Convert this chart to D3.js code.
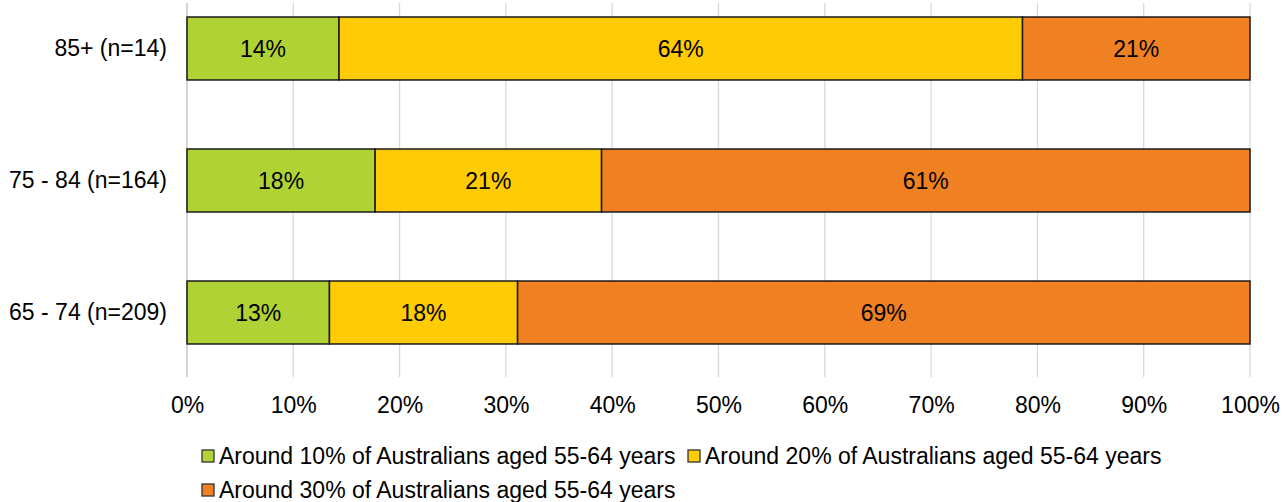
<!DOCTYPE html>
<html>
<head>
<meta charset="utf-8">
<script src="https://cdn.jsdelivr.net/npm/d3@7"></script>
<style>
  html, body { margin: 0; padding: 0; background: #ffffff; }
  svg { display: block; font-family: Arial, "Liberation Sans", sans-serif; }
</style>
</head>
<body>
<svg id="chart" width="1286" height="502"></svg>
<script>
// Age groups, top to bottom
const categories = ["85+ (n=14)", "75 - 84 (n=164)", "65 - 74 (n=209)"];

// Share of respondents (%) per answer, in the same order as categories
const seriesNames = [
  "Around 10% of Australians aged 55-64 years",
  "Around 20% of Australians aged 55-64 years",
  "Around 30% of Australians aged 55-64 years"
];
const around10 = [14.3, 17.7, 13.4];
const around20 = [64.3, 21.3, 17.7];
const around30 = [21.4, 61.0, 68.9];

const tickValues = [0, 10, 20, 30, 40, 50, 60, 70, 80, 90, 100];
const colors = ["#b1d235", "#ffcb05", "#f08122"];

const svg = d3.select("#chart");
const left = 187, right = 1250;
const gridTop = 3, gridBottom = 377;

const x = d3.scaleLinear().domain([0, 100]).range([left, right]);
const y = d3.scaleBand().domain(categories).range([-17.5, 378.5]).paddingInner(0.523).paddingOuter(0.2615);

// Vertical gridlines
svg.append("g")
  .selectAll("line")
  .data(tickValues.slice(1))
  .join("line")
  .attr("x1", d => x(d)).attr("x2", d => x(d))
  .attr("y1", gridTop).attr("y2", gridBottom)
  .attr("stroke", "#d9d9d9").attr("stroke-width", 1.3);

// Category axis line
svg.append("line")
  .attr("x1", x(0)).attr("x2", x(0))
  .attr("y1", gridTop).attr("y2", gridBottom)
  .attr("stroke", "#bfbfbf").attr("stroke-width", 1.3);

// Bottom axis labels
const xAxis = d3.axisBottom(x).tickValues(tickValues).tickFormat(d => d + "%").tickSize(0).tickPadding(0);
const gx = svg.append("g").attr("transform", `translate(0,${gridBottom + 20})`).call(xAxis);
gx.select(".domain").remove();
gx.selectAll("text")
  .attr("font-size", 23).attr("fill", "#000").attr("font-family", "Arial, 'Liberation Sans', sans-serif")
  .attr("dy", "0.71em");

// Category labels
const yAxis = d3.axisLeft(y).tickSize(0).tickPadding(0);
const gy = svg.append("g").attr("transform", `translate(${left - 20},0)`).call(yAxis);
gy.select(".domain").remove();
gy.selectAll("text")
  .attr("font-size", 23).attr("fill", "#000").attr("font-family", "Arial, 'Liberation Sans', sans-serif");

// Stack the series
const rows = categories.map((c, i) => ({ cat: c, s0: around10[i], s1: around20[i], s2: around30[i] }));
const stack = d3.stack().keys(["s0", "s1", "s2"]);
const layers = stack(rows);

const groups = svg.append("g")
  .selectAll("g")
  .data(layers)
  .join("g")
  .attr("fill", (d, i) => colors[i]);

groups.selectAll("rect")
  .data(d => d)
  .join("rect")
  .attr("x", d => x(d[0]))
  .attr("y", d => y(d.data.cat))
  .attr("width", d => x(d[1]) - x(d[0]))
  .attr("height", y.bandwidth())
  .attr("stroke", "#1a1a1a").attr("stroke-width", 1.5);

groups.selectAll("text")
  .data(d => d)
  .join("text")
  .attr("x", d => (x(d[0]) + x(d[1])) / 2)
  .attr("y", d => y(d.data.cat) + y.bandwidth() / 2)
  .attr("dy", "0.36em")
  .attr("text-anchor", "middle")
  .attr("font-size", 23)
  .attr("fill", "#000")
  .text(d => Math.round(d[1] - d[0]) + "%");

// Legend
const legendItems = [
  { name: seriesNames[0], color: colors[0], mx: 202, ty: 456 },
  { name: seriesNames[1], color: colors[1], mx: 688, ty: 456 },
  { name: seriesNames[2], color: colors[2], mx: 202, ty: 490 }
];
const lg = svg.append("g")
  .selectAll("g")
  .data(legendItems)
  .join("g")
  .attr("transform", d => `translate(${d.mx},${d.ty})`);
lg.append("rect")
  .attr("x", 0).attr("y", -6).attr("width", 12).attr("height", 12)
  .attr("fill", d => d.color).attr("stroke", "#333").attr("stroke-width", 1.3);
lg.append("text")
  .attr("x", 17).attr("dy", "0.36em")
  .attr("font-size", 23).attr("fill", "#000")
  .text(d => d.name);
</script>
</body>
</html>
